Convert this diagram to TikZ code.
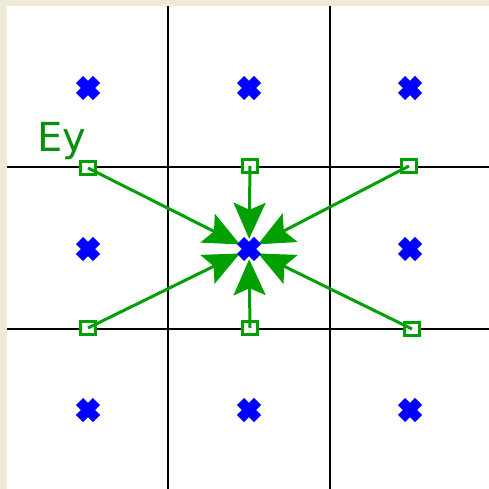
\documentclass[tikz,border=0pt]{standalone}
\usepackage{fontspec}
\setsansfont{DejaVu Sans}
\usepackage{xcolor}
\usetikzlibrary{arrows.meta,positioning}
\definecolor{frame}{HTML}{EDEADA}
\definecolor{fieldgreen}{HTML}{00A000}
\definecolor{labelgreen}{HTML}{0A900A}
\definecolor{ptblue}{HTML}{0000FF}
\tikzset{
  gridline/.style={draw=black, line width=2.4pt},
  port/.style={draw=fieldgreen, fill=white, line width=2.2pt, rectangle,
               minimum width=15pt, minimum height=13pt, inner sep=0pt},
  cellpt/.style={circle, minimum size=20pt, inner sep=0pt},
  xmark/.style={draw=ptblue, line width=10pt},
  interp/.style={-{Stealth[length=36pt, width=32pt, inset=7pt]},
                 line width=3pt, draw=fieldgreen}
}

\begin{document}
\begin{tikzpicture}[x=1pt,y=-1pt]
        % page and cell area
        \fill[frame] (0,0) rectangle (489,489);
        \fill[white] (7,6) rectangle (489,489);
        \useasboundingbox (0,0) rectangle (489,489);
        % cell edges
        \foreach \gx in {168,330} {
          \draw[gridline] (\gx,6) -- (\gx,489);
        }
        \foreach \gy in {167,329} {
          \draw[gridline] (7,\gy) -- (489,\gy);
        }
        % cell centres
        \foreach \cx/\i in {88/1,249/2,410/3} {
          \foreach \cy/\j in {88/1,249/2,410/3} {
            \node[cellpt] (c\i\j) at (\cx,\cy) {};
          }
        }
        % Ey samples on the edges
        \node[port] (ey1) at (88,168) {};
        \node[port] (ey2) at (250,166) {};
        \node[port] (ey3) at (409,166) {};
        \node[port] (ey4) at (88,328) {};
        \node[port] (ey5) at (250,328) {};
        \node[port] (ey6) at (412,329) {};
        \node[text=labelgreen, font=\sffamily\fontsize{40}{44}\selectfont] (lab) at (62,141) {Ey};
        % interpolation to the centre
        \foreach \k in {1,...,6} {
          \draw[interp] (ey\k.center) -- (c22);
        }
        % the crosses go on top
        \foreach \i in {1,2,3} {
          \foreach \j in {1,2,3} {
            \draw[xmark] ([shift={(-8.5,-8.5)}]c\i\j.center) -- ([shift={(8.5,8.5)}]c\i\j.center)
                         ([shift={(-8.5,8.5)}]c\i\j.center) -- ([shift={(8.5,-8.5)}]c\i\j.center);
          }
        }
      \end{tikzpicture}
\end{document}
